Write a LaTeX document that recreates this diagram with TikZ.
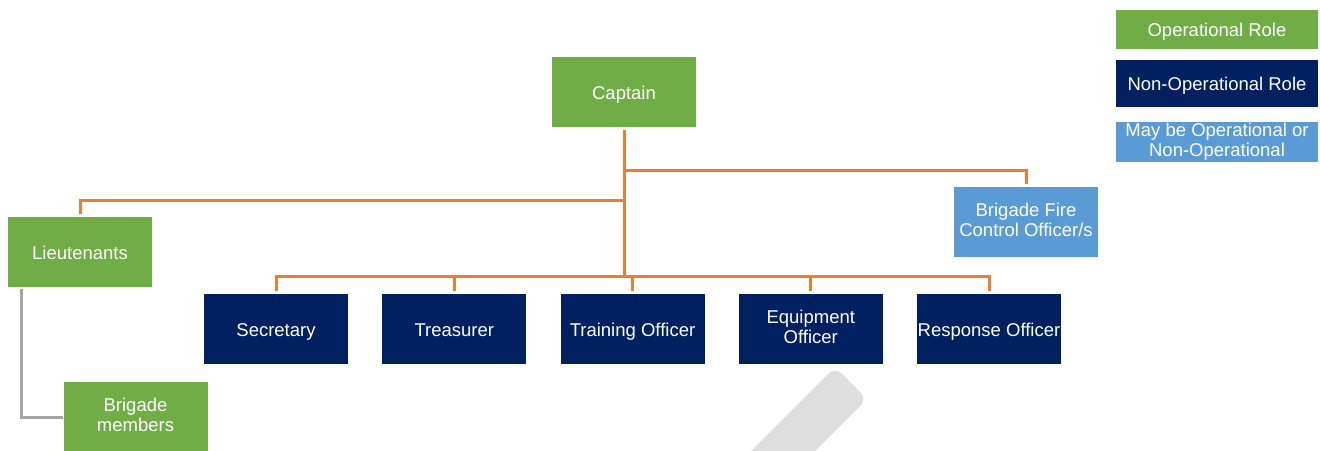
\documentclass[tikz,border=0pt]{standalone}
\usepackage{fontspec}
\setmainfont{Liberation Sans}
\usetikzlibrary{positioning, calc}
\definecolor{operationalcolor}{RGB}{112,173,71}
\definecolor{nonoperationalcolor}{RGB}{0,32,96}
\definecolor{eithercolor}{RGB}{91,155,213}
\definecolor{linkcolor}{RGB}{237,125,49}
\definecolor{memberlinkcolor}{RGB}{165,165,165}
\definecolor{watermarkcolor}{RGB}{222,222,222}
\newcommand{\roletop}{\rule{0pt}{18.5pt}}
\newcommand{\roletoptwo}{\rule{0pt}{23.5pt}}
\newcommand{\rolebottom}{\rule[-4.5pt]{0pt}{4.5pt}}

\tikzset{
	rolebox/.style={rectangle, text=white, inner sep=0pt, outer sep=0pt, align=center,
		minimum width=144pt, minimum height=70pt,
		execute at begin node=\roletop, execute at end node=\rolebottom,
		font=\fontsize{18.5}{19.2}\selectfont},
	twoline/.style={execute at begin node=\roletoptwo},
	oprole/.style={rolebox, fill=operationalcolor},
	nonoprole/.style={rolebox, fill=nonoperationalcolor},
	eitherrole/.style={rolebox, fill=eithercolor},
	legendbox/.style={rolebox, minimum width=202pt},
	link/.style={linkcolor, line width=3pt},
	memberlink/.style={memberlinkcolor, line width=3pt}
}

\begin{document}
\begin{tikzpicture}[x=1pt, y=-1pt, node distance=34.25pt]
\useasboundingbox (0,0) rectangle (1320,450);

% Watermark stroke
\begin{scope}
\clip (0,0) rectangle (1320,450);
\fill[watermarkcolor, rounded corners=9pt] (835,367) -- (867,399) -- (767,499) -- (735,467) -- cycle;
\end{scope}

% Roles
\node[oprole] (captain) at (624,92) {Captain};
\node[oprole] (lieut) at (80,252) {Lieutenants};
\node[oprole, twoline] (members) at (135.5,417) {Brigade\\members};
\node[eitherrole, twoline] (bfco) at (1026,222) {Brigade Fire\\Control Officer/s};

\node[nonoprole] (secretary) at (276,329) {Secretary};
\node[nonoprole, right=of secretary] (treasurer) {Treasurer};
\node[nonoprole, right=of treasurer] (training) {Training Officer};
\node[nonoprole, twoline, right=of training] (equipment) {Equipment\\Officer};
\node[nonoprole, right=of equipment] (response) {Response Officer};

% Legend
\node[legendbox, fill=operationalcolor, minimum height=39pt] (leg-op) at (1217,29.5) {Operational Role};
\node[legendbox, fill=nonoperationalcolor, minimum height=47pt] (leg-nonop) at (1217,83.5) {Non-Operational Role};
\node[legendbox, fill=eithercolor, minimum height=40pt] (leg-either) at (1217,142) {May be Operational or\\Non-Operational};

% Buses
\coordinate (highbus) at (624,170);
\coordinate (midbus) at (624,200);
\coordinate (lowbus) at (624,276);

\draw[link, shorten <=3pt] (captain) -- (lowbus);
\draw[link, shorten >=3pt] (highbus) -| (bfco);
\draw[link, shorten >=3pt] (midbus) -| (lieut);
\draw[link, shorten <=3pt, shorten >=3pt] (secretary) |- (lowbus) -| (response);
\foreach \r in {treasurer, training, equipment}
	\draw[link, shorten >=3pt] (lowbus -| \r) -- (\r);

\draw[memberlink, shorten <=2pt, shorten >=1pt] ([xshift=13pt]lieut.south west) |- (members);

\end{tikzpicture}
\end{document}
